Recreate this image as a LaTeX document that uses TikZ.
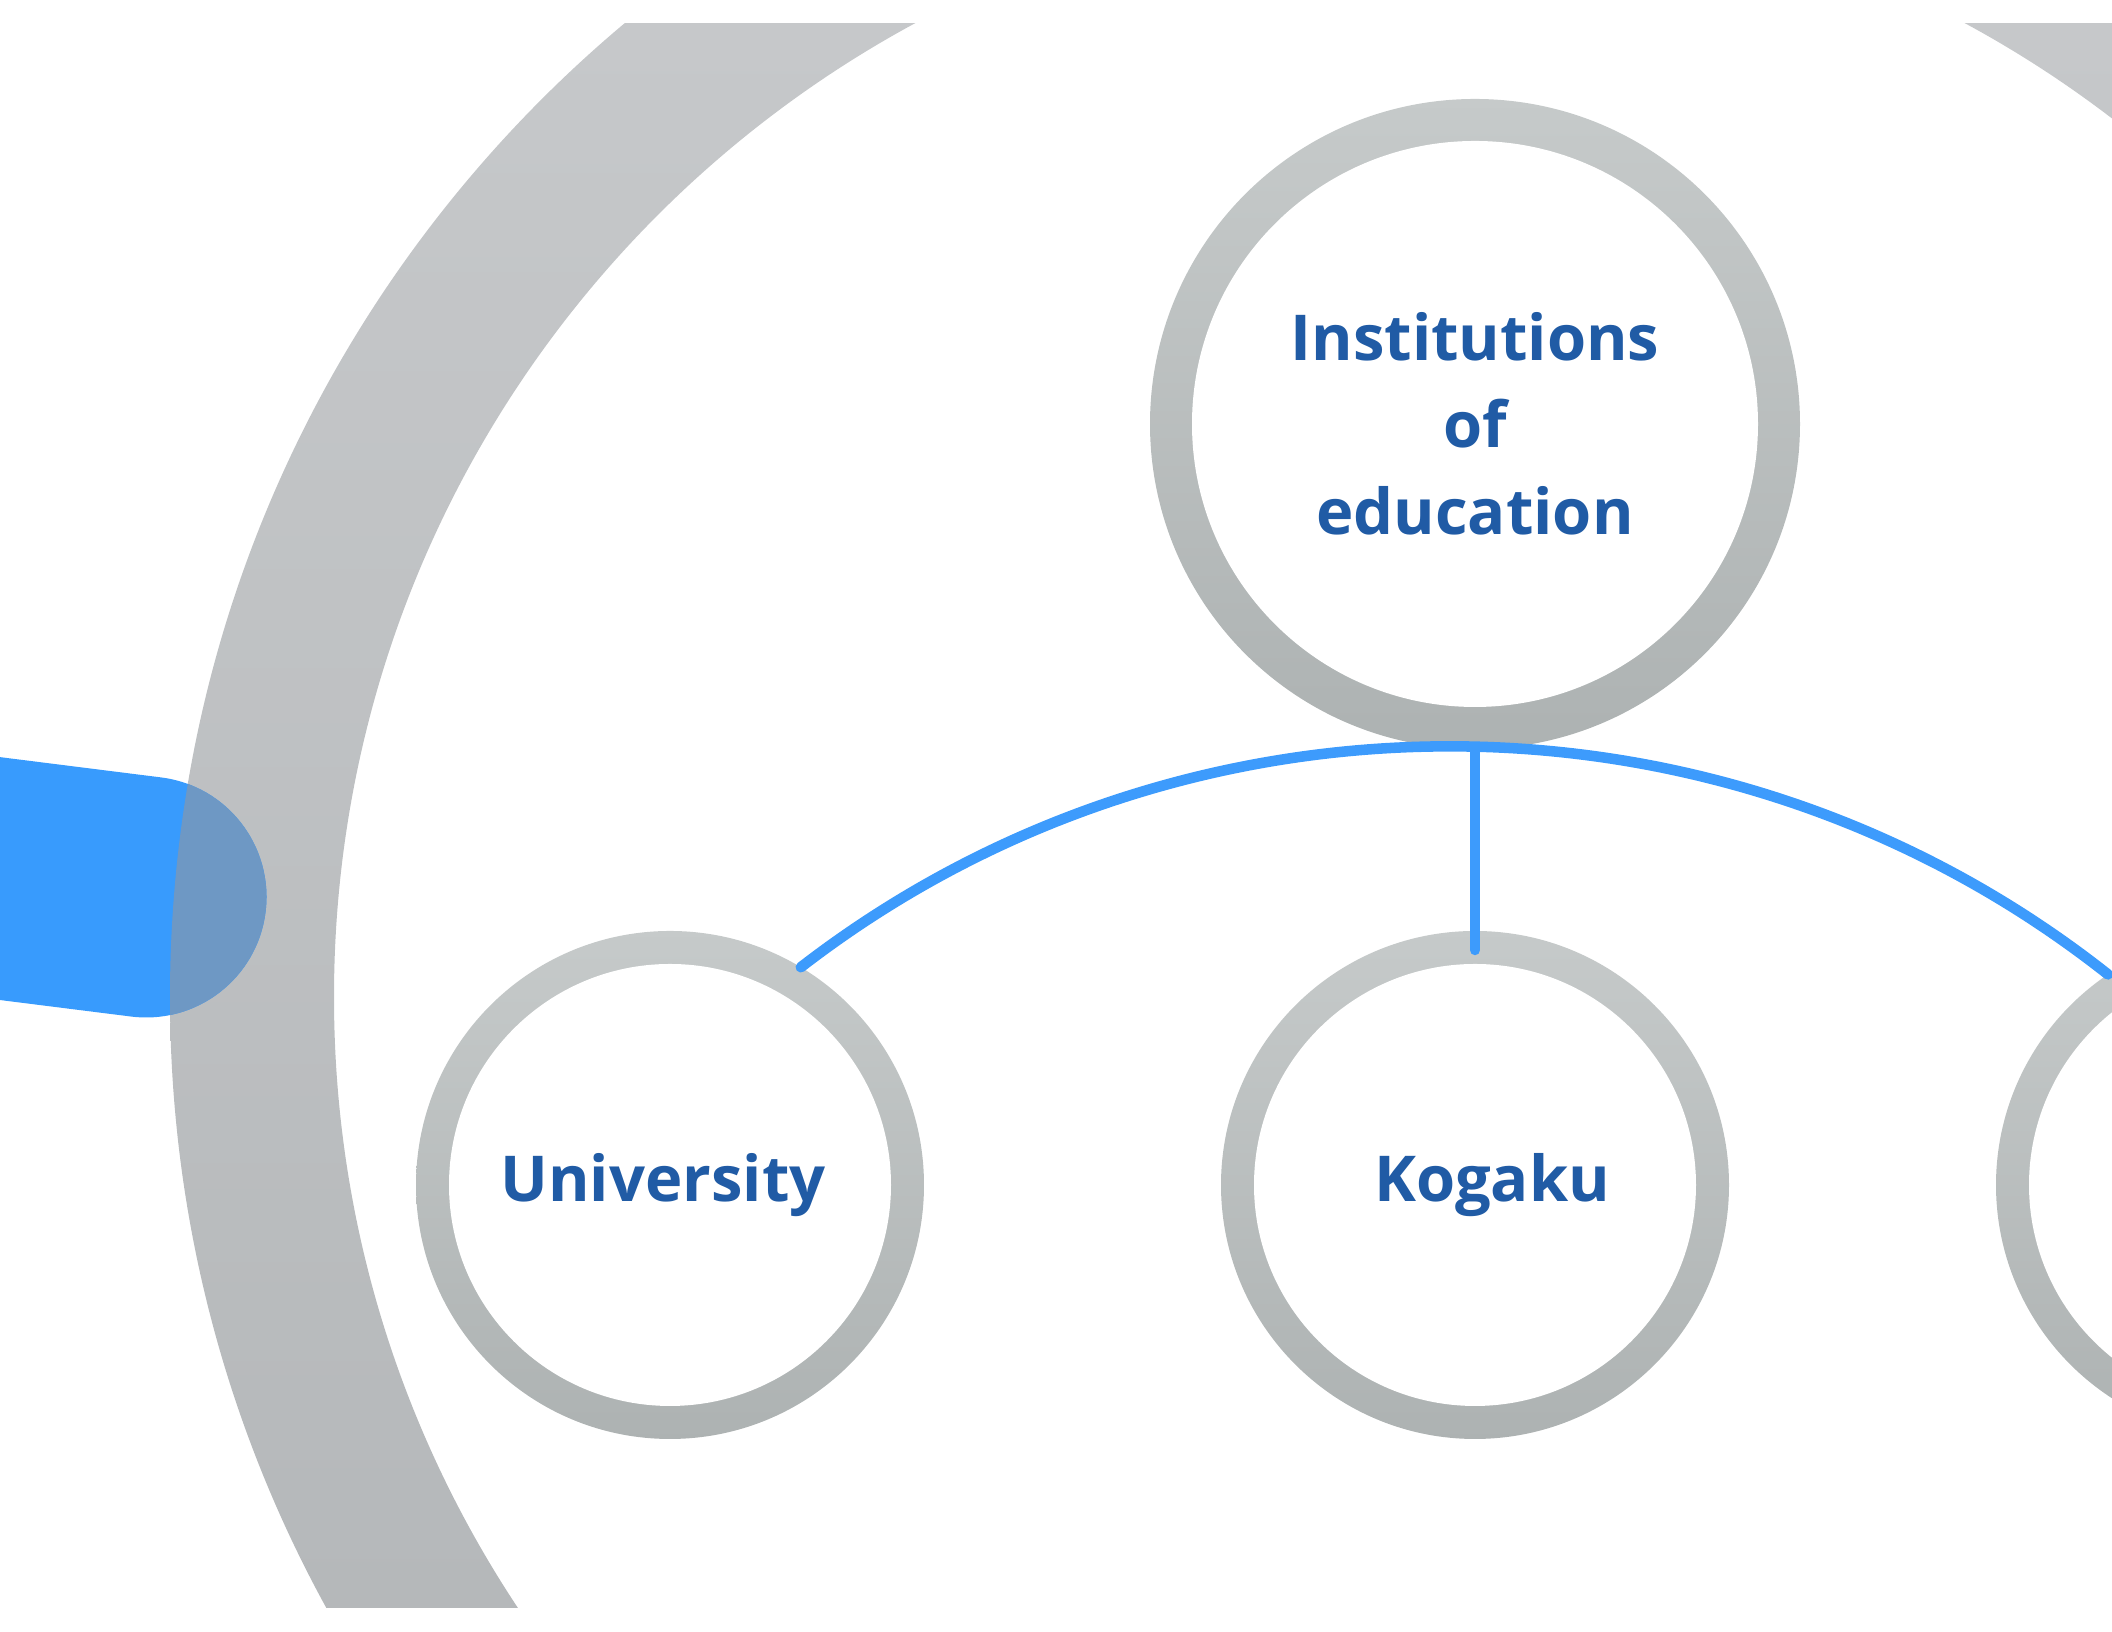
\documentclass[tikz,border=0pt]{standalone}
\usepackage{fontspec}
\setmainfont{Open Sans}
\usetikzlibrary{calc}
\definecolor{ringtop}{HTML}{C6CACA}
\definecolor{ringmid}{HTML}{C0C1C4}
\definecolor{ringbot}{HTML}{ADB2B2}
\definecolor{bigtop}{HTML}{C6C8CA}
\definecolor{bigmid}{HTML}{BEBFC3}
\definecolor{bigbot}{HTML}{B5B8BA}
\definecolor{barblue}{HTML}{389BFD}
\definecolor{barshade}{HTML}{6E98C4}
\definecolor{linkblue}{HTML}{3D9BFC}
\definecolor{labelblue}{HTML}{205BA5}

\begin{document}
\begin{tikzpicture}[
  ring/.style 2 args={circle, inner sep=0pt, outer sep=0pt, minimum size=#1,
    path picture={
      \shade[top color=ringtop, middle color=ringmid, bottom color=ringbot]
        ($(path picture bounding box.south west)+(-0.05,-0.05)$) rectangle ($(path picture bounding box.north east)+(0.05,0.05)$);
      \fill[white] (path picture bounding box.center) circle[radius=#2];},
    text=labelblue, font=\fontsize{18}{24.75}\selectfont\bfseries, align=center},
  link/.style={draw=linkblue, line width=3pt, line cap=round},
  bar/.style={line width=2.41cm, line cap=round}
]
\useasboundingbox (0,0) rectangle (21.12,16.32);

% big ring in the back
\begin{scope}[even odd rule]
\clip (0,0.24) rectangle (21.12,16.08);
\clip (14.40,6.35) circle[radius=12.70] (14.40,6.35) circle[radius=11.06];
\shade[top color=bigtop, middle color=bigmid, bottom color=bigbot] (0,0.24) rectangle (21.12,16.08);
\end{scope}

% blue bar from the left
\begin{scope}[even odd rule]
\clip (0,0) rectangle (21.12,16.32);
\draw[bar, draw=barblue] (-1,7.66) -- (1.46,7.35);
\clip (14.40,6.35) circle[radius=12.70] (14.40,6.35) circle[radius=11.06];
\draw[bar, draw=barshade] (-1,7.66) -- (1.46,7.35);
\end{scope}

\node[ring={6.5cm}{2.83cm}] (edu) at (14.75,12.08) {Institutions\\of\\education};
\node[ring={5.08cm}{2.21cm}] (uni) at (6.70,4.47) {\hspace*{-0.14cm}University};
\node[ring={5.08cm}{2.21cm}] (kogaku) at (14.75,4.47) {\hspace*{0.34cm}Kogaku};
\node[ring={5.08cm}{2.21cm}] (next) at (22.50,4.47) {};

\draw[link] (uni.59) to[bend left=38, looseness=0.95] (next.124);
\draw[link] ([yshift=-0.03cm]edu.south) -- ([yshift=-0.19cm]kogaku.north);
%\draw[link] (edu.south) -- (kogaku.north);
\end{tikzpicture}
\end{document}
